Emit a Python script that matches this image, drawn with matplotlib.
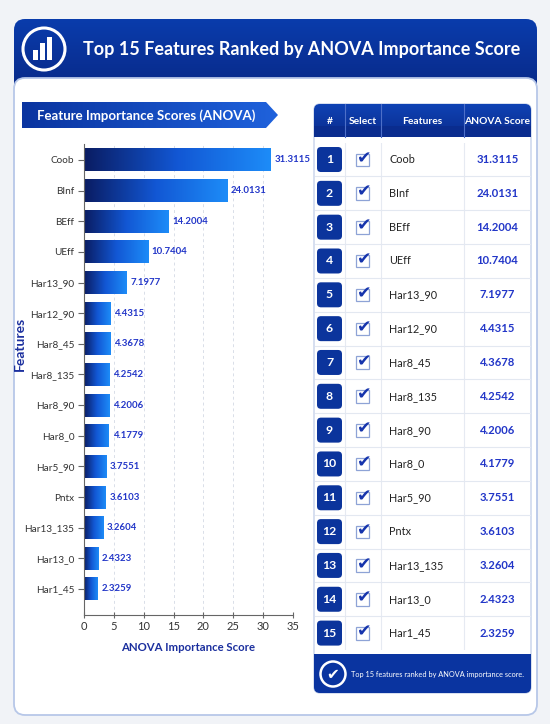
import numpy as np
import matplotlib
matplotlib.use('Agg')
import matplotlib.pyplot as plt
from matplotlib import font_manager
from matplotlib.colors import LinearSegmentedColormap
from matplotlib.patches import FancyBboxPatch, Rectangle, Polygon, Circle


# Data
features = ['Coob', 'BInf', 'BEff', 'UEff', 'Har13_90', 'Har12_90', 'Har8_45',
            'Har8_135', 'Har8_90', 'Har8_0', 'Har5_90', 'Pntx', 'Har13_135',
            'Har13_0', 'Har1_45']
scores = [31.3115, 24.0131, 14.2004, 10.7404, 7.1977, 4.4315, 4.3678,
          4.2542, 4.2006, 4.1779, 3.7551, 3.6103, 3.2604, 2.4323, 2.3259]
ranks = list(range(1, len(features) + 1))
x_ticks = [0, 5, 10, 15, 20, 25, 30, 35]
columns = ['#', 'Select', 'Features', 'ANOVA Score']

TITLE = 'Top 15 Features Ranked by ANOVA Importance Score'
SUBTITLE = 'Feature Importance Scores (ANOVA)'
FOOTER = 'Top 15 features ranked by ANOVA importance score.'

# Fonts: prefer a narrow face, the reference uses a condensed UI font
names = {f.name for f in font_manager.fontManager.ttflist}
FONT = 'Liberation Sans Narrow' if 'Liberation Sans Narrow' in names else 'Lato'
plt.rcParams['font.family'] = [FONT, 'DejaVu Sans']

NAVY = '#1b2f9e'
VALUE = '#2236c8'
W, H = 550, 724


def gradient(ax, patch, c0, c1, extent, vertical=False, zorder=1):
    """Fill a patch with a two colour linear gradient."""
    cmap = LinearSegmentedColormap.from_list('g', [c0, c1])
    g = np.linspace(0, 1, 256)
    g = g[:, None] if vertical else g[None, :]
    im = ax.imshow(g, cmap=cmap, extent=extent, aspect='auto',
                   interpolation='bicubic', zorder=zorder)
    im.set_clip_path(patch)
    return im


fig = plt.figure(figsize=(W / 100, H / 100), dpi=100, facecolor='#f1f3f7')

# Background layer in pixel coordinates
bg = fig.add_axes([0, 0, 1, 1], zorder=0)
bg.set_xlim(0, W)
bg.set_ylim(H, 0)
bg.axis('off')

# Header band
head = FancyBboxPatch((14, 19), 523, 90, boxstyle='round,pad=0,rounding_size=11',
                      fc='none', ec='none')
bg.add_patch(head)
gradient(bg, head, '#0a3cac', '#08247e', [14, 537, 109, 19], vertical=True)

# White card
bg.add_patch(FancyBboxPatch((14, 78), 523, 637, boxstyle='round,pad=0,rounding_size=11',
                            fc='white', ec='#b7c7e8', lw=1.3, zorder=2))

# Icon
bg.add_patch(Circle((44, 49), 21, fill=False, ec='white', lw=2.2, zorder=3))
for x0, top in [(32.5, 50), (39.5, 43), (46.5, 37)]:
    bg.add_patch(Rectangle((x0, top), 5, 60 - top, fc='white', ec='none', zorder=3))

bg.text(83, 49, TITLE, ha='left', va='center', color='white', fontsize=13,
        fontweight='bold', zorder=3)

# Sub title banner
banner = Polygon([(22, 102), (266, 102), (278, 115), (266, 128), (22, 128)],
                 closed=True, fc='none', ec='none', zorder=3)
bg.add_patch(banner)
gradient(bg, banner, '#0a34a0', '#1f62dc', [22, 278, 128, 102], zorder=3)
bg.text(37, 115.5, SUBTITLE, ha='left', va='center', color='white', fontsize=9.5,
        fontweight='bold', zorder=4)

# Table frame, header and footer
bg.add_patch(FancyBboxPatch((314, 104), 217, 589, boxstyle='round,pad=0,rounding_size=6',
                            fc='white', ec='#c6d2ea', lw=1.0, zorder=2))
th = FancyBboxPatch((314, 104), 217, 33, boxstyle='round,pad=0,rounding_size=6',
                    fc='none', ec='none', zorder=3)
bg.add_patch(th)
gradient(bg, th, '#0f42b4', '#0a2c8e', [314, 531, 137, 104], vertical=True, zorder=3)
bg.add_patch(Rectangle((314, 126), 217, 11, fc='#0a2c8e', ec='none', zorder=3))

col_edges = [314, 345, 381, 464, 531]
for xe in col_edges[1:-1]:
    bg.plot([xe, xe], [104, 137], color='#4d6fc8', lw=0.8, zorder=4)
for name, a, b in zip(columns, col_edges[:-1], col_edges[1:]):
    bg.text((a + b) / 2, 121, name, ha='center', va='center', color='white',
            fontsize=7.4, fontweight='bold', zorder=5)

foot = FancyBboxPatch((314, 654), 217, 39, boxstyle='round,pad=0,rounding_size=6',
                      fc='#0a34a0', ec='none', zorder=3)
bg.add_patch(foot)
bg.add_patch(Rectangle((314, 654), 217, 10, fc='#0a34a0', ec='none', zorder=3))
bg.add_patch(Circle((333, 674), 12.5, fill=False, ec='white', lw=1.8, zorder=4))
bg.text(333, 674.5, '\u2714', ha='center', va='center', color='white', fontsize=11,
        family='DejaVu Sans', zorder=5)
bg.text(351, 674, FOOTER, ha='left', va='center', color='white', fontsize=5.35, zorder=5)

# Bar chart
ax = fig.add_axes([84 / W, (H - 615) / H, 209 / W, 471 / H], zorder=2)
ax.set_facecolor('none')
ypos = np.arange(len(features))
bars = ax.barh(ypos, scores, height=0.75, color='none', zorder=2)
cmap = LinearSegmentedColormap.from_list('bar', ['#0a1c62', '#1257d4', '#1d8cf8'])
grad = np.linspace(0, 1, 256)[None, :]
for bar, v, y in zip(bars, scores, ypos):
    im = ax.imshow(grad, cmap=cmap, extent=[0, v, y + 0.375, y - 0.375],
                   aspect='auto', interpolation='bicubic', zorder=2)
    im.set_clip_path(bar)
    ax.text(v + 0.6, y, f'{v:.4f}', ha='left', va='center', color=VALUE,
            fontsize=6.9, fontweight='bold', zorder=3)

ax.set_xlim(0, 35)
ax.set_ylim(14.85, -0.52)
ax.set_xticks(x_ticks)
ax.set_yticks(ypos, features)
ax.xaxis.grid(True, ls=(0, (3, 3)), color='#d9dee8', lw=0.7, zorder=0)
ax.set_axisbelow(True)
for side in ['top', 'right']:
    ax.spines[side].set_visible(False)
for side in ['left', 'bottom']:
    ax.spines[side].set_color('#666666')
    ax.spines[side].set_linewidth(0.8)
ax.tick_params(axis='y', length=4, width=0.8, color='#666666', labelsize=7.2,
               labelcolor='#333333', pad=3)
ax.tick_params(axis='x', direction='inout', length=5, width=0.8, color='#666666',
               labelsize=8, labelcolor='#333333', pad=2)
ax.set_xlabel('ANOVA Importance Score', fontsize=8.2, fontweight='bold', color=NAVY,
              labelpad=7)
ax.set_ylabel('Features', fontsize=10, fontweight='bold', color=NAVY)
ax.yaxis.set_label_coords(-0.28, 0.575)

# Table body, one row per feature
tb = fig.add_axes([314 / W, (H - 650) / H, 217 / W, (650 - 142.6) / H], zorder=3)
tb.set_xlim(314, 531)
tb.set_ylim(14.5, -0.5)
tb.axis('off')
row_px = (650 - 142.6) / len(features)
asp = 1 / row_px

for xe in col_edges[1:-1]:
    tb.plot([xe, xe], [-0.5, 14.5], color='#e6eaf2', lw=0.8, zorder=1)
for y in ypos[:-1]:
    tb.plot([315, 530], [y + 0.5, y + 0.5], color='#e3e8f1', lw=0.8, zorder=1)

for rank, name, v, y in zip(ranks, features, scores, ypos):
    tb.add_patch(FancyBboxPatch((317, y - 12.5 * asp), 25, 25 * asp,
                                boxstyle='round,pad=0,rounding_size=4',
                                mutation_aspect=asp, fc='#0b349c', ec='none', zorder=2))
    tb.text(329.5, y, str(rank), ha='center', va='center', color='white',
            fontsize=8.8, fontweight='bold', zorder=3)
    tb.add_patch(Rectangle((356, y - 6 * asp), 12.5, 12.5 * asp, fc='white',
                           ec='#8ea3d6', lw=0.9, zorder=2))
    tb.text(363.8, y - 1.5 * asp, '\u2714', ha='center', va='center', color='#1634ac',
            fontsize=12.5, family='DejaVu Sans', zorder=3)
    tb.text(389, y, name, ha='left', va='center', color='#222222', fontsize=7.8, zorder=3)
    tb.text(497.5, y, f'{v:.4f}', ha='center', va='center', color=VALUE,
            fontsize=8.1, fontweight='bold', zorder=3)

fig.savefig('out.png', dpi=100, facecolor=fig.get_facecolor())
